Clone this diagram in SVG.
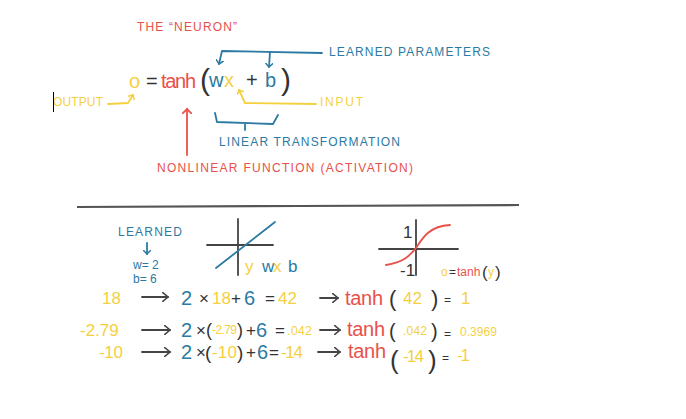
<svg xmlns="http://www.w3.org/2000/svg" width="686" height="419" viewBox="0 0 686 419">
<style>
.r{fill:#e8514a}.b{fill:#2b7aa3}.y{fill:#f4d03f}.k{fill:#333}
text{font-family:"Liberation Sans","DejaVu Sans",sans-serif}
.lab{font-size:12px}
.big{font-size:20px}
.mid{font-size:17px}
.sm{font-size:12px}
.ln{fill:none;stroke-width:1.8;stroke-linecap:round;stroke-linejoin:round}
.sr{stroke:#e8514a}.sb{stroke:#2b7aa3}.sy{stroke:#f4d03f}.sk{stroke:#444}
</style>
<defs>
<marker id="ab" markerWidth="8" markerHeight="8" refX="4" refY="4" orient="auto" markerUnits="userSpaceOnUse"><path d="M0,0 L4,4 L0,8" fill="none" stroke="#2b7aa3" stroke-width="1.5"/></marker>
<marker id="ay" markerWidth="8" markerHeight="8" refX="4" refY="4" orient="auto" markerUnits="userSpaceOnUse"><path d="M0,0 L4,4 L0,8" fill="none" stroke="#f4d03f" stroke-width="1.5"/></marker>
<marker id="ar" markerWidth="10" markerHeight="10" refX="5" refY="5" orient="auto" markerUnits="userSpaceOnUse"><path d="M0,0 L5,5 L0,10" fill="none" stroke="#e8514a" stroke-width="1.8"/></marker>
<marker id="ak" markerWidth="10" markerHeight="10" refX="6" refY="5" orient="auto" markerUnits="userSpaceOnUse"><path d="M0,0 L6,5 L0,10" fill="none" stroke="#444" stroke-width="1.6"/></marker>
</defs>
<rect width="686" height="419" fill="#fff"/>

<g id="title"><text class="lab r" x="137" y="31" textLength="100">THE “NEURON”</text></g>

<g id="equation">
<text class="big y" x="129" y="88">o</text>
<text class="big k" x="146" y="88">=</text>
<text class="big r" x="161" y="88" textLength="35">tanh</text>
<text class="k" x="200" y="90" style="font-size:30px">(</text>
<text class="big b" x="209" y="87">w</text>
<text class="big y" x="224" y="87">x</text>
<text class="big k" x="246" y="87">+</text>
<text class="big b" x="265" y="87">b</text>
<text class="k" x="281" y="90" style="font-size:30px">)</text>
</g>

<g id="labels">
<text class="lab b" x="329" y="56" textLength="161">LEARNED PARAMETERS</text>
<text class="lab y" x="53" y="106" textLength="50">OUTPUT</text>
<text class="lab y" x="320" y="106" textLength="43">INPUT</text>
<text class="lab b" x="219" y="146" textLength="181">LINEAR TRANSFORMATION</text>
<text class="lab r" x="157" y="172" textLength="256">NONLINEAR FUNCTION (ACTIVATION)</text>
</g>

<g id="connectors">
<path class="ln sb" d="M322,53 L222,51 L219,64" marker-end="url(#ab)"/>
<path class="ln sb" d="M270,52 L269,67" marker-end="url(#ab)"/>
<path class="ln sy" d="M108,104 L128,103 L133,95" marker-end="url(#ay)"/>
<path class="ln sy" d="M316,104 L245,103 L239,90" marker-end="url(#ay)"/>
<path class="ln sr" d="M187,155 L187,109" marker-end="url(#ar)"/>
<path class="ln sb" d="M215,113 L217,122 L273,124 L278,115 M245,124 L245,130"/>
<line x1="53.5" y1="92" x2="53.5" y2="112" stroke="#000" stroke-width="1"/>
</g>

<g id="divider"><path d="M77,207 L300,206 L519,205" fill="none" stroke="#555" stroke-width="2.2"/></g>

<g id="learned">
<text class="lab b" x="118" y="236" textLength="64">LEARNED</text>
<path class="ln sb" d="M147,243 L147,254" marker-end="url(#ab)"/>
<text class="sm b" x="133" y="269">w= 2</text>
<text class="sm b" x="133" y="283">b= 6</text>
</g>

<g id="graph-linear">
<path class="ln sk" d="M207,245 L273,245 M238,219 L238,275" stroke-width="1.5"/>
<path class="ln sb" d="M216,268 L275,222" stroke-width="2.6"/>
<text class="mid y" x="245" y="272">y</text>
<text class="mid b" x="262" y="272">w</text>
<text class="mid y" x="273" y="272">x</text>
<text class="mid b" x="288" y="272">b</text>
</g>

<g id="graph-tanh">
<path class="ln sk" d="M379,249 L458,249 M416,220 L416,275" stroke-width="1.5"/>
<path class="ln sr" d="M386,265 C405,262 410,255 416,248 C423,237 430,226 450,225"/>
<text class="mid k" x="403" y="238">1</text>
<text class="mid k" x="400" y="276">-1</text>
<text class="sm y" x="441" y="276">o</text>
<text class="sm k" x="449" y="276">=</text>
<text class="sm r" x="457" y="276">tanh</text>
<text class="mid k" x="482" y="278">(</text>
<text class="sm y" x="488" y="276">y</text>
<text class="mid k" x="495" y="278">)</text>
</g>

<g id="row1">
<text class="mid y" x="102" y="304">18</text>
<path class="ln sk" d="M142,297 L168,297" marker-end="url(#ak)"/>
<text class="big b" x="181" y="305">2</text>
<text class="mid k" x="199" y="304">×</text>
<text class="mid y" x="212" y="304">18</text>
<text class="mid k" x="231" y="304">+</text>
<text class="big b" x="244" y="305">6</text>
<text class="mid k" x="265" y="304">=</text>
<text class="mid y" x="278" y="304">42</text>
<path class="ln sk" d="M320,298 L338,298" marker-end="url(#ak)"/>
<text class="big r" x="345" y="305" textLength="38">tanh</text>
<text class="k" x="389" y="306" style="font-size:22px">(</text>
<text class="mid y" x="403" y="304">42</text>
<text class="k" x="431" y="306" style="font-size:22px">)</text>
<text class="sm k" x="444" y="304">=</text>
<text class="mid y" x="461" y="304">1</text>
</g>

<g id="row2">
<text class="mid y" x="80" y="336">-2.79</text>
<path class="ln sk" d="M142,330 L170,330" marker-end="url(#ak)"/>
<text class="big b" x="181" y="337">2</text>
<text class="mid k" x="196" y="336">×</text>
<text class="k" x="206" y="336" style="font-size:18px">(</text>
<text class="sm y" x="212" y="334" textLength="25">-2.79</text>
<text class="k" x="237" y="336" style="font-size:18px">)</text>
<text class="mid k" x="246" y="336">+</text>
<text class="big b" x="256" y="337">6</text>
<text class="mid k" x="275" y="336">=</text>
<text class="sm y" x="287" y="335" textLength="25">.042</text>
<path class="ln sk" d="M320,330 L340,330" marker-end="url(#ak)"/>
<text class="big r" x="347" y="336" textLength="38">tanh</text>
<text class="k" x="389" y="338" style="font-size:20px">(</text>
<text class="sm y" x="403" y="335" textLength="24">.042</text>
<text class="k" x="431" y="338" style="font-size:20px">)</text>
<text class="sm k" x="444" y="338">=</text>
<text class="sm y" x="460" y="336" textLength="37">0.3969</text>
</g>

<g id="row3">
<text class="mid y" x="99" y="358" textLength="24">-10</text>
<path class="ln sk" d="M142,352 L170,352" marker-end="url(#ak)"/>
<text class="big b" x="181" y="359">2</text>
<text class="mid k" x="196" y="358">×</text>
<text class="k" x="205" y="359" style="font-size:19px">(</text>
<text class="mid y" x="212" y="358" textLength="25">-10</text>
<text class="k" x="237" y="359" style="font-size:19px">)</text>
<text class="mid k" x="246" y="358">+</text>
<text class="big b" x="257" y="359">6</text>
<text class="mid k" x="269" y="358">=</text>
<text class="mid y" x="281" y="358" textLength="22">-14</text>
<path class="ln sk" d="M318,352 L340,352" marker-end="url(#ak)"/>
<text class="big r" x="348" y="358" textLength="38">tanh</text>
<text class="k" x="390" y="369" style="font-size:26px">(</text>
<text class="mid y" x="403" y="362" textLength="21">-14</text>
<text class="k" x="428" y="369" style="font-size:26px">)</text>
<text class="sm k" x="442" y="362">=</text>
<text class="mid y" x="457" y="361" textLength="13">-1</text>
</g>
</svg>
